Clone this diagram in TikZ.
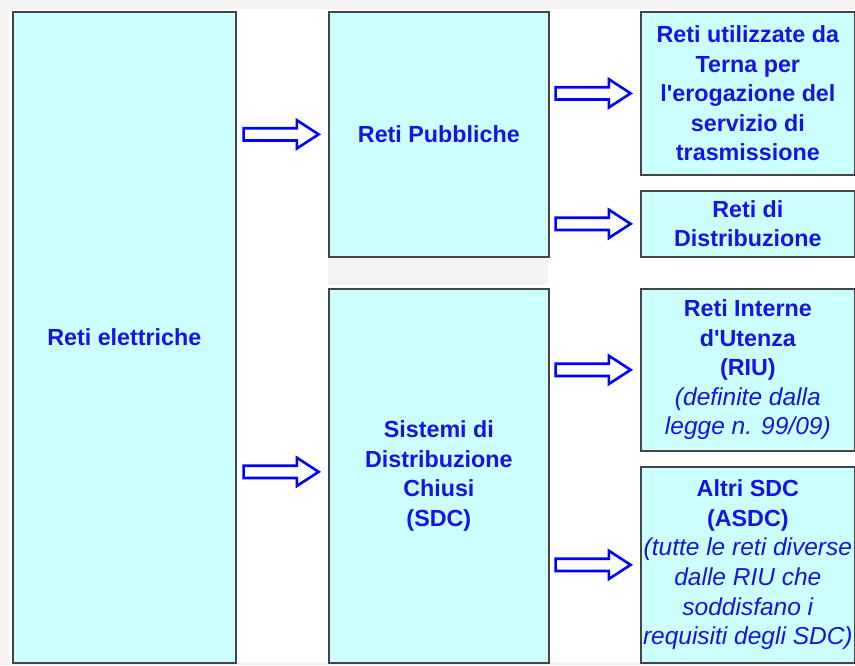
\documentclass[tikz,border=0pt]{standalone}
\usepackage{fontspec}
\setmainfont{Liberation Sans}
\usetikzlibrary{shapes.arrows}
\definecolor{boxfill}{HTML}{CCFFFF}
\definecolor{boxline}{HTML}{454545}
\definecolor{txtblue}{RGB}{20,20,230}
\definecolor{pagegray}{HTML}{F2F2F2}
\newcommand\bft{\fontsize{23.3}{29.6}\selectfont\bfseries}
\newcommand\itt{\fontsize{24.5}{29.6}\selectfont\mdseries\itshape}
\begin{document}
\begin{tikzpicture}[x=1pt,y=-1pt,
  box/.style={draw=boxline, fill=boxfill, line width=1.7pt, anchor=north west,
    inner sep=0pt, align=center, text=txtblue, font=\bft},
  bigarrow/.style={single arrow, draw=blue, fill=white, line width=2.6pt,
    minimum height=75pt, single arrow head extend=8pt,
    single arrow tip angle=66, inner sep=0pt, inner ysep=4.8pt, anchor=tip}]
\useasboundingbox (0,0) rectangle (855,665);
% page background with its grey frame and the grey band between the middle boxes
\fill[pagegray] (0,0) rectangle (855,665);
\fill[white] (9,9) rectangle (855,662);
\fill[pagegray] (328,258) rectangle (548,285);

% boxes
\node[box, minimum width=223pt, minimum height=651pt] (reti) at (12,11) {Reti elettriche};
\node[box, minimum width=220pt, minimum height=245pt] (pub) at (328,11) {Reti Pubbliche};
\node[box, minimum width=220pt, minimum height=374pt] (sdc) at (328,288)
  {Sistemi di\\Distribuzione\\Chiusi\\(SDC)};
\node[box, minimum width=214pt, minimum height=163pt] (terna) at (640,11)
  {Reti utilizzate da\\Terna per\\l\textquotesingle erogazione del\\servizio di\\trasmissione};
\node[box, minimum width=214pt, minimum height=66pt] (distr) at (640,190)
  {Reti di\\Distribuzione};
\node[box, minimum width=214pt, minimum height=162pt] (riu) at (640,288)
  {Reti Interne\\d\textquotesingle Utenza\\(RIU)\\\itt(definite dalla\\\itt legge n. 99/09)};
\node[box, minimum width=214pt, minimum height=196pt] (asdc) at (640,466)
  {Altri SDC\\(ASDC)\\\itt(tutte le reti diverse\\\itt dalle RIU che\\\itt soddisfano i\\\itt requisiti degli SDC)};

% block arrows pointing into each box
\node[bigarrow] (a1) at ([xshift=-7pt]pub.west) {};
\node[bigarrow] (a2) at ([xshift=-7pt,yshift=4pt]sdc.west) {};
\node[bigarrow] (a3) at ([xshift=-7pt]terna.west) {};
\node[bigarrow] (a4) at ([xshift=-7pt]distr.west) {};
\node[bigarrow] (a5) at ([xshift=-7pt]riu.west) {};
\node[bigarrow] (a6) at ([xshift=-7pt]asdc.west) {};
\end{tikzpicture}
\end{document}
